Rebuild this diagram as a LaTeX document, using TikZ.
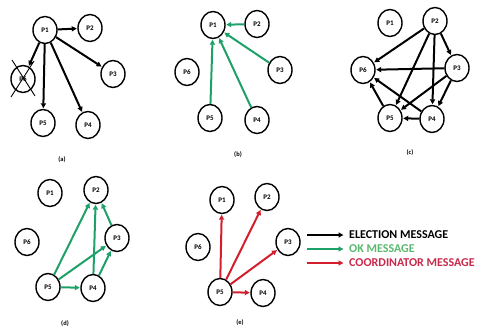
\documentclass[tikz,border=0pt]{standalone}
\usepackage{fontspec}
\setmainfont{Carlito}
\usetikzlibrary{shapes.geometric,arrows.meta}
\definecolor{okgreen}{RGB}{30,160,105}
\definecolor{coordred}{RGB}{210,30,45}
\definecolor{oktext}{RGB}{90,185,110}
\definecolor{coordtext}{RGB}{200,40,75}
\begin{document}
\begin{tikzpicture}[x=1pt,y=-1pt,
  proc/.style={ellipse,draw=black,line width=1.4pt,minimum width=24pt,minimum height=27pt,
    inner sep=0pt,font=\bfseries\fontsize{7}{8}\selectfont,fill=white},
  msg/.style={line width=2pt,-{Triangle[length=5pt,width=5pt]},shorten >=0.5pt},
  elect/.style={msg,draw=black},
  okmsg/.style={msg,draw=okgreen},
  coord/.style={msg,draw=coordred},
  sublabel/.style={font=\bfseries\fontsize{6.5}{7}\selectfont},
  legendtext/.style={anchor=west,font=\bfseries\fontsize{12}{13}\selectfont,inner sep=0pt}]
\useasboundingbox (0,0) rectangle (479,334);

% ---- (a) P1 starts an election
\node[proc] (a1) at (45,30) {P1};
\node[proc] (a2) at (90,28) {P2};
\node[proc] (a3) at (113,74) {P3};
\node[proc] (a4) at (88,125) {P4};
\node[proc] (a5) at (43,123) {P5};
\node[proc] (a6) at (23,79) {P6};
\draw[line width=0.9pt] (12,60) -- (35,96);
\draw[line width=0.9pt] (11,97) -- (34,61);
\foreach \t in {a2,a3,a4,a5,a6} \draw[elect] (a1) -- (\t);
\node[sublabel] (la) at (62,160) {(a)};

% ---- (b) OK replies to P1
\node[proc] (b1) at (213,25) {P1};
\node[proc] (b2) at (257,24) {P2};
\node[proc] (b3) at (280,70) {P3};
\node[proc] (b4) at (257,120) {P4};
\node[proc] (b5) at (210,118) {P5};
\node[proc] (b6) at (187,72) {P6};
\foreach \s in {b2,b3,b4,b5} \draw[okmsg] (\s) -- (b1);
\node[sublabel] (lb) at (238,155) {(b)};

% ---- (c) further elections
\node[proc] (c1) at (390,23) {P1};
\node[proc] (c2) at (435,21) {P2};
\node[proc] (c3) at (457,68) {P3};
\node[proc] (c4) at (432,119) {P4};
\node[proc] (c5) at (390,118) {P5};
\node[proc] (c6) at (363,70) {P6};
\draw[elect] (c2) -- (c6);
\draw[elect] (c2) -- (c5);
\draw[elect] (c2) -- (c4);
\draw[elect] (c2) -- (c3);
\draw[elect] (c3) -- (c6);
\draw[elect] (c3) -- (c5);
\draw[elect] (c3) -- (c4);
\draw[elect] (c4) -- (c6);
\draw[elect] (c4) -- (c5);
\draw[elect] (c5) -- (c6);
\node[sublabel] (lc) at (410,153) {(c)};

% ---- (d) OK replies
\node[proc] (d1) at (50,193) {P1};
\node[proc] (d2) at (96,190) {P2};
\node[proc] (d3) at (117,238) {P3};
\node[proc] (d4) at (93,288) {P4};
\node[proc] (d5) at (48,287) {P5};
\node[proc] (d6) at (27,242) {P6};
\draw[okmsg] (d5) -- (d2);
\draw[okmsg] (d5) -- (d3);
\draw[okmsg] (d5) -- (d4);
\draw[okmsg] (d4) -- (d2);
\draw[okmsg] (d4) -- (d3);
\draw[okmsg] (d3) -- (d2);
\node[sublabel] (ld) at (65,324) {(d)};

% ---- (e) P5 announces itself as coordinator
\node[proc] (e1) at (222,200) {P1};
\node[proc] (e2) at (267,197) {P2};
\node[proc] (e3) at (288,242) {P3};
\node[proc] (e4) at (263,293) {P4};
\node[proc] (e5) at (220,292) {P5};
\node[proc] (e6) at (198,247) {P6};
\foreach \t in {e1,e2,e3,e4} \draw[coord] (e5) -- (\t);
\node[sublabel] (le) at (240,323) {(e)};

% ---- legend
\coordinate (k1s) at (307,235); \coordinate (k1e) at (344,235);
\coordinate (k2s) at (307,249); \coordinate (k2e) at (344,249);
\coordinate (k3s) at (307,263); \coordinate (k3e) at (344,263);
\draw[elect] (k1s) -- (k1e);
\draw[okmsg] (k2s) -- (k2e);
\draw[coord] (k3s) -- (k3e);
\node[legendtext] (t1) at (349,235) {ELECTION MESSAGE};
\node[legendtext,text=oktext] (t2) at (349,249) {OK MESSAGE};
\node[legendtext,text=coordtext] (t3) at (349,263) {COORDINATOR MESSAGE};
\end{tikzpicture}
\end{document}
